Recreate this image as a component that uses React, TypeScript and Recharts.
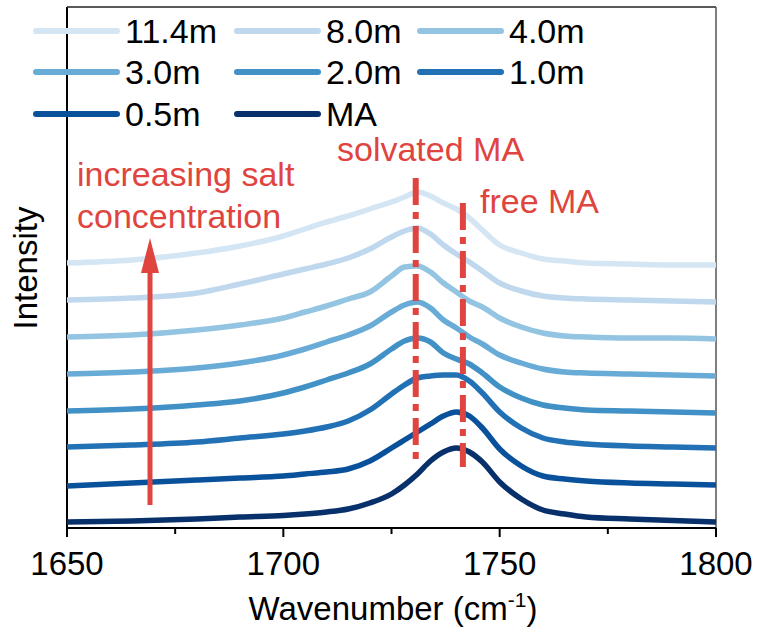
import React from 'react';
import { LineChart, Line, XAxis, YAxis, ReferenceLine } from 'recharts';

// wavenumber grid (cm-1) shared by every spectrum
const WAVENUMBERS = [
  1650, 1665, 1680, 1690, 1700, 1705, 1710, 1715, 1720, 1725, 1728, 1731, 1734,
  1737, 1740, 1743, 1746, 1750, 1755, 1760, 1765, 1770, 1780, 1790, 1800,
];

// offset-stacked intensities (a.u.)
const MA = [6, 7, 9, 11, 12.5, 14, 16, 19, 25, 34, 43, 54, 67, 76, 80, 76, 66, 46, 29, 18, 14, 11, 9, 7.5, 6];
const M05 = [42, 45, 48, 50, 52, 54, 56, 59, 67, 80, 88, 96, 104, 112, 116, 112, 100, 79, 62, 52, 49, 47, 45, 44, 43];
const M10 = [81, 83, 86, 90, 94, 97, 101, 107, 118, 134, 143, 150, 152, 153, 153, 147, 135, 116, 100, 90, 86, 84, 82, 81, 80];
const M20 = [117, 119, 123, 127, 135, 141, 148, 155, 164, 179, 187, 190, 186, 175, 169, 164, 155, 141, 130, 123, 120, 118, 117, 116, 115];
const M30 = [154, 156, 160, 165, 173, 179, 186, 193, 202, 216, 223, 226, 220, 208, 200, 191, 184, 173, 165, 159, 156, 155, 154, 153, 152];
const M40 = [191, 193, 198, 203, 210, 216, 222, 229, 236, 252, 261, 262, 256, 245, 236, 227, 221, 210, 201, 195, 192, 191, 190, 190, 189];
const M80 = [228, 230, 235, 244, 254, 259, 264, 270, 279, 291, 297, 300, 294, 283, 274, 266, 257, 245, 237, 232, 230, 229, 228, 227, 226];
const M114 = [265, 268, 275, 282, 292, 299, 306, 312, 319, 326, 331, 336, 332, 325, 319, 310, 298, 283, 275, 269, 267, 265, 264, 263, 263];

const SERIES_NAMES = ['11.4m', '8.0m', '4.0m', '3.0m', '2.0m', '1.0m', '0.5m', 'MA'];
const SERIES_VALUES = [M114, M80, M40, M30, M20, M10, M05, MA];
const SERIES_COLORS = ['#d4e6f4', '#bfd8ee', '#93c5e3', '#68abd6', '#4191c6', '#2271b5', '#0a519c', '#08306b'];

const X_TICKS = [1650, 1675, 1700, 1725, 1750, 1775, 1800];
const X_MIN = 1650;
const X_MAX = 1800;
const Y_MAX = 521;
const SOLVATED_MA = 1730.6;
const FREE_MA = 1741.5;

const RED = '#e0443f';
const FONT = '"Liberation Sans", Arial, sans-serif';

const chartData = WAVENUMBERS.map((w, i) => {
  const row: Record<string, number> = { w };
  SERIES_NAMES.forEach((name, s) => {
    row[name] = SERIES_VALUES[s][i];
  });
  return row;
});

function XTick(props: any) {
  const { x, y, payload } = props;
  const major = payload.value % 50 === 0;
  return (
    <g>
      <line x1={x} x2={x} y1={y} y2={y + (major ? 9 : 6)} stroke="#000" strokeWidth={2} />
      {major && (
        <text x={x} y={y + 47} textAnchor="middle" fontSize={33} fontFamily={FONT} fill="#000">
          {payload.value}
        </text>
      )}
    </g>
  );
}

function Overlay() {
  const colX = [36, 237, 420];
  const rowY = [31, 72, 114];
  return (
    <svg
      width={758}
      height={631}
      style={{ position: 'absolute', left: 0, top: 0, pointerEvents: 'none' }}
    >
      {SERIES_NAMES.map((name, i) => {
        const cx = colX[i % 3];
        const cy = rowY[Math.floor(i / 3)];
        return (
          <g key={name}>
            <line x1={cx} x2={cx + 81} y1={cy} y2={cy} stroke={SERIES_COLORS[i]} strokeWidth={6} strokeLinecap="round" />
            <text x={cx + 89} y={cy + 12} fontSize={34} fontFamily={FONT} fill="#000">
              {name}
            </text>
          </g>
        );
      })}

      <text x={337} y={161} fontSize={34} fontFamily={FONT} fill={RED}>solvated MA</text>
      <text x={480} y={213} fontSize={34} fontFamily={FONT} fill={RED}>free MA</text>
      <text x={77} y={186} fontSize={34} fontFamily={FONT} fill={RED}>increasing salt</text>
      <text x={77} y={228} fontSize={34} fontFamily={FONT} fill={RED}>concentration</text>

      <line x1={150} x2={150} y1={505} y2={270} stroke={RED} strokeWidth={5} />
      <polygon points="141,273 159,273 150,238" fill={RED} />

      <text x={393} y={620} textAnchor="middle" fontSize={33} fontFamily={FONT} fill="#000">
        Wavenumber (cm
        <tspan fontSize={21} dy={-13}>-1</tspan>
        <tspan dy={13}>)</tspan>
      </text>
      <text
        x={0}
        y={0}
        transform="translate(37,268) rotate(-90)"
        textAnchor="middle"
        fontSize={33}
        fontFamily={FONT}
        fill="#000"
      >
        Intensity
      </text>
    </svg>
  );
}

export default function App() {
  return (
    <div style={{ position: 'absolute', left: 0, top: 0, width: 758, height: 631, background: '#fff' }}>
      <LineChart
        width={758}
        height={631}
        data={chartData}
        margin={{ top: 7, right: 42, bottom: 43, left: 67 }}
      >
        <XAxis
          dataKey="w"
          type="number"
          domain={[X_MIN, X_MAX]}
          ticks={X_TICKS}
          interval={0}
          height={60}
          tickSize={0}
          tickMargin={0}
          tick={(p: any) => <XTick {...p} />}
          axisLine={{ stroke: '#000', strokeWidth: 2 }}
        />
        <YAxis type="number" domain={[0, Y_MAX]} hide />
        {/* frame: left axis, top and right borders */}
        <ReferenceLine x={X_MIN} stroke="#000" strokeWidth={2} />
        <ReferenceLine y={Y_MAX} stroke="#222" strokeWidth={1.5} />
        <ReferenceLine x={X_MAX} stroke="#555" strokeWidth={1.5} />
        {SERIES_NAMES.map((name, i) => (
          <Line
            key={name}
            dataKey={name}
            type="monotone"
            stroke={SERIES_COLORS[i]}
            strokeWidth={5.5}
            strokeLinejoin="round"
            dot={false}
            activeDot={false}
            isAnimationActive={false}
          />
        ))}
        <ReferenceLine
          segment={[{ x: SOLVATED_MA, y: 350 }, { x: SOLVATED_MA, y: 65 }]}
          stroke={RED}
          strokeWidth={6}
          strokeDasharray="27 7 7 7"
        />
        <ReferenceLine
          segment={[{ x: FREE_MA, y: 325 }, { x: FREE_MA, y: 61 }]}
          stroke={RED}
          strokeWidth={6}
          strokeDasharray="27 7 7 7"
        />
      </LineChart>
      <Overlay />
    </div>
  );
}
